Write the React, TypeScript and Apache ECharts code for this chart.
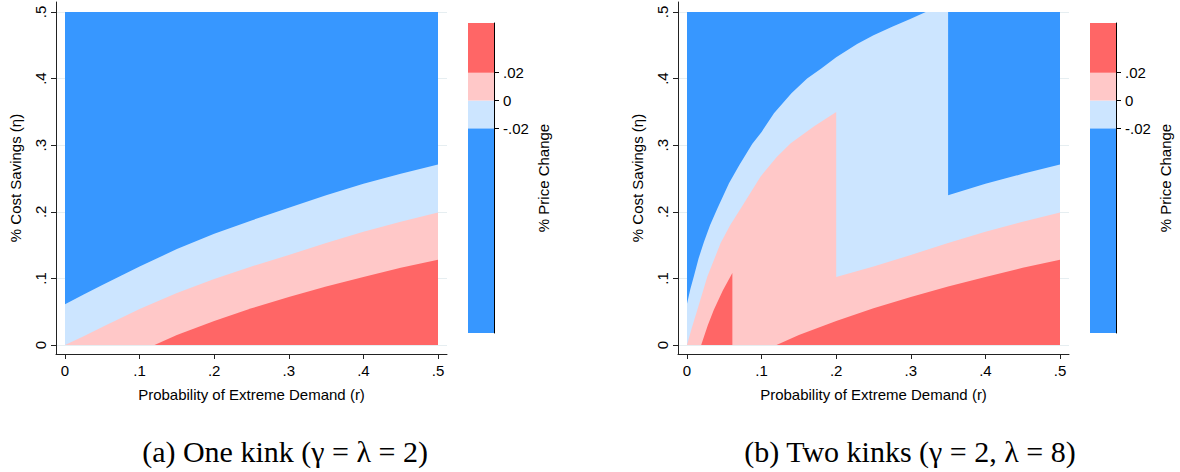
import React, { useEffect, useRef } from "react";
import * as echarts from "echarts";

// ---- axis ticks ----
const rTicks = [0, 0.1, 0.2, 0.3, 0.4, 0.5];
const etaTicks = [0, 0.1, 0.2, 0.3, 0.4, 0.5];
const colorTicks = [-0.02, 0, 0.02];

// ---- colour scale: z range and contour cut points ----
const colorLevels = [-0.167, -0.02, 0, 0.02, 0.0557];
const levelColors = ["#3797ff", "#cce5ff", "#ffc8c8", "#ff6666"];

// ---- panel (a): one kink ----
const aTop: number[][] = [[0, 0.5], [0.5, 0.5]];
const aLightBlue: number[][] = [
  [0, 0.061], [0.025, 0.076], [0.05, 0.09], [0.075, 0.104], [0.1, 0.118], [0.15, 0.144],
  [0.2, 0.167], [0.25, 0.187], [0.3, 0.206], [0.35, 0.225], [0.4, 0.242],
  [0.45, 0.257], [0.5, 0.271],
];
const aPink: number[][] = [
  [0, 0], [0.025, 0.013], [0.05, 0.027], [0.1, 0.054], [0.15, 0.078], [0.2, 0.099],
  [0.25, 0.118], [0.3, 0.135], [0.35, 0.153], [0.4, 0.17], [0.45, 0.185], [0.5, 0.199],
];
const aRed: number[][] = [
  [0.12, 0], [0.15, 0.015], [0.2, 0.036], [0.25, 0.055], [0.3, 0.072],
  [0.35, 0.088], [0.4, 0.102], [0.45, 0.116], [0.5, 0.128],
];

// ---- panel (b): two kinks ----
const bTop: number[][] = [[0, 0.5], [0.5, 0.5]];
const bLightBlue: number[][] = [
  [0, 0.062], [0.0045, 0.084], [0.0094, 0.104], [0.0155, 0.13], [0.0228, 0.155],
  [0.031, 0.18], [0.0407, 0.205], [0.0563, 0.243], [0.07, 0.27], [0.0876, 0.302],
  [0.1, 0.32], [0.1166, 0.348], [0.14, 0.378], [0.161, 0.4], [0.18, 0.415], [0.2, 0.432],
  [0.228, 0.452], [0.25, 0.465], [0.275, 0.478], [0.3, 0.49], [0.32, 0.5], [0.35, 0.5],
  [0.35, 0.225], [0.4, 0.242], [0.45, 0.257], [0.5, 0.271],
];
const bPink: number[][] = [
  [0, 0], [0.0065, 0.026], [0.0139, 0.053], [0.0273, 0.103], [0.0451, 0.153],
  [0.058, 0.18], [0.072, 0.205], [0.0987, 0.253], [0.12, 0.282], [0.139, 0.303],
  [0.17, 0.328], [0.2, 0.35], [0.2, 0.102],
  [0.25, 0.118], [0.3, 0.135], [0.35, 0.153], [0.4, 0.17], [0.45, 0.185], [0.5, 0.199],
];
const bRed: number[][] = [
  [0.019, 0], [0.028, 0.03], [0.036, 0.053], [0.048, 0.082], [0.0608, 0.108], [0.0608, 0],
  [0.12, 0], [0.15, 0.015], [0.2, 0.036], [0.25, 0.055], [0.3, 0.072],
  [0.35, 0.088], [0.4, 0.102], [0.45, 0.116], [0.5, 0.128],
];

const xTitle = "Probability of Extreme Demand (r)";
const yTitle = "% Cost Savings (η)";
const cTitle = "% Price Change";
const captions = ["(a) One kink (γ = λ = 2)", "(b) Two kinks (γ = 2, λ = 8)"];

const fmt = (v: number) => {
  if (Math.abs(v) < 1e-9) return "0";
  const s = String(Math.round(v * 1000) / 1000);
  return s.replace(/^(-?)0\./, "$1.");
};

const SANS = '"Liberation Sans", Arial, sans-serif';
const FS = 15;
const AXIS_COLOR = "#222";
const GRID_COLOR = "#e6eef1";

export default function App() {
  const ref = useRef<HTMLDivElement>(null);
  useEffect(() => {
    if (!ref.current) return;
    const chart = echarts.init(ref.current, undefined, { renderer: "svg" });

    const plotGrids = [
      { left: 56, top: 2, width: 391, height: 352 },
      { left: 678, top: 2, width: 391, height: 352 },
    ];
    const barGrids = [
      { left: 468, top: 23, width: 26, height: 310 },
      { left: 1090, top: 23, width: 26, height: 310 },
    ];

    const xAxes: any[] = [];
    const yAxes: any[] = [];
    plotGrids.forEach((_, i) => {
      xAxes.push({
        type: "value",
        gridIndex: i,
        min: -9 / 746,
        max: 0.5 + 9 / 746,
        axisLine: { onZero: false, lineStyle: { color: AXIS_COLOR, width: 1 } },
        axisTick: { customValues: rTicks, length: 5, lineStyle: { color: AXIS_COLOR } },
        axisLabel: {
          customValues: rTicks,
          formatter: fmt,
          margin: 9,
          fontSize: FS,
          color: "#000",
          fontFamily: SANS,
        },
        splitLine: { show: false },
        name: xTitle,
        nameLocation: "middle",
        nameGap: 33,
        nameTextStyle: { fontSize: FS, color: "#000", fontFamily: SANS },
      });
      yAxes.push({
        type: "value",
        gridIndex: i,
        min: -9 / 666,
        max: 0.5 + 10 / 666,
        axisLine: { onZero: false, lineStyle: { color: AXIS_COLOR, width: 1 } },
        axisTick: { customValues: etaTicks, length: 5, lineStyle: { color: AXIS_COLOR } },
        axisLabel: {
          customValues: etaTicks,
          formatter: fmt,
          rotate: 90,
          margin: 8,
          fontSize: FS,
          color: "#000",
          fontFamily: SANS,
        },
        splitLine: { show: true, lineStyle: { color: GRID_COLOR, width: 1 } },
        name: yTitle,
        nameLocation: "middle",
        nameGap: 33,
        nameRotate: 90,
        nameTextStyle: { fontSize: FS, color: "#000", fontFamily: SANS },
      });
    });
    barGrids.forEach((_, i) => {
      xAxes.push({
        type: "value",
        gridIndex: 2 + i,
        min: 0,
        max: 1,
        show: false,
      });
      yAxes.push({
        type: "value",
        gridIndex: 2 + i,
        position: "right",
        min: colorLevels[0],
        max: colorLevels[colorLevels.length - 1],
        axisLine: { onZero: false, lineStyle: { color: "#000", width: 1 } },
        axisTick: { customValues: colorTicks, length: 5, lineStyle: { color: "#000" } },
        axisLabel: {
          customValues: colorTicks,
          formatter: fmt,
          margin: 9,
          fontSize: FS,
          color: "#000",
          fontFamily: SANS,
        },
        splitLine: { show: false },
        name: cTitle,
        nameLocation: "middle",
        nameGap: 42,
        nameRotate: 90,
        nameTextStyle: { fontSize: FS, color: "#000", fontFamily: SANS },
      });
    });

    const area = (data: number[][], color: string, idx: number, z: number) => ({
      type: "line",
      data,
      xAxisIndex: idx,
      yAxisIndex: idx,
      showSymbol: false,
      symbol: "none",
      silent: true,
      z,
      lineStyle: { width: 0, opacity: 0 },
      areaStyle: { color, opacity: 1 },
    });

    const panels = [
      [aTop, aLightBlue, aPink, aRed],
      [bTop, bLightBlue, bPink, bRed],
    ];
    const series: any[] = [];
    panels.forEach((layers, p) => {
      layers.forEach((d, k) => series.push(area(d, levelColors[k], p, 2 + k)));
    });
    [0, 1].forEach((i) => {
      series.push({
        type: "line",
        xAxisIndex: 2 + i,
        yAxisIndex: 2 + i,
        data: [],
        silent: true,
        markArea: {
          silent: true,
          data: levelColors.map((c, k) => [
            { yAxis: colorLevels[k], itemStyle: { color: c, opacity: 1 } },
            { yAxis: colorLevels[k + 1] },
          ]),
        },
      });
    });

    const capFont = '30px "Liberation Serif", "Times New Roman", serif';
    chart.setOption({
      animation: false,
      backgroundColor: "#fff",
      grid: [...plotGrids, ...barGrids].map((g) => ({ ...g, containLabel: false })),
      xAxis: xAxes,
      yAxis: yAxes,
      series,
      graphic: [
        {
          type: "text",
          x: 285,
          y: 451,
          style: { text: captions[0], fill: "#000", font: capFont, align: "center", verticalAlign: "middle" },
        },
        {
          type: "text",
          x: 910,
          y: 451,
          style: { text: captions[1], fill: "#000", font: capFont, align: "center", verticalAlign: "middle" },
        },
      ],
    });
    return () => chart.dispose();
  }, []);
  return (
    <div
      ref={ref}
      style={{ position: "absolute", left: 0, top: 0, width: 1180, height: 472, background: "#fff" }}
    />
  );
}
